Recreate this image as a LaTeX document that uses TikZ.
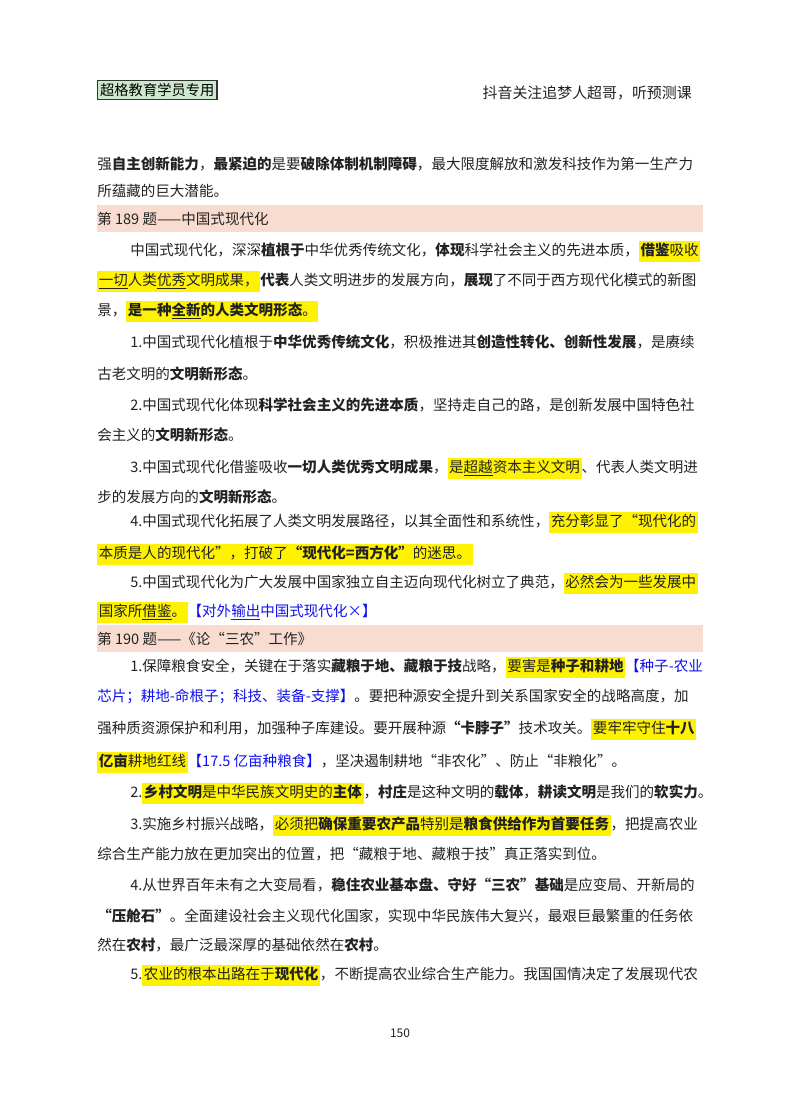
\documentclass[tikz,border=0pt]{standalone}
\usepackage{fontspec}
\setmainfont{Noto Sans CJK SC}
\XeTeXlinebreaklocale "zh"
\XeTeXlinebreakskip=0pt plus 3pt
\definecolor{band}{HTML}{F8DCD0}
\definecolor{hdr}{HTML}{CDE8CF}
\definecolor{txt}{HTML}{222222}
\definecolor{lnk}{HTML}{1010F0}
\newcommand\hl[1]{{\setlength{\fboxsep}{1.2pt}\colorbox{yellow}{\strut #1}}}
\newcommand\fl[1]{\makebox[454.5pt][s]{#1}}
\newcommand\il[1]{\makebox[429.75pt][s]{#1}}
\newcommand\bl[1]{\textcolor{lnk}{#1}}
\tikzset{tl/.style={anchor=base west, inner sep=0, text=txt, font=\fontsize{10.9pt}{13pt}\selectfont}}
\begin{document}
\begin{tikzpicture}[x=0.75pt,y=-0.75pt]
\useasboundingbox[fill=white] (0,0) rectangle (800,1114);
% header
\node[draw=black!80, fill=hdr, line width=0.8pt, inner sep=2pt, anchor=west, font=\fontsize{10.7pt}{13pt}\selectfont] (hd) at (97,90) {超格教育学员专用};
\node[anchor=east, inner sep=0, font=\fontsize{11.2pt}{13pt}\selectfont, text=txt] (hr) at (692,93) {抖音关注追梦人超哥，听预测课};
% bands
\fill[band] (97,205) rectangle (703,232);
\fill[band] (97,625) rectangle (703,652);
\node[tl] (l1) at (97,169) {\fl{强\textbf{自主创新能力}，\textbf{最紧迫的}是要\textbf{破除体制机制障碍}，最大限度解放和激发科技作为第一生产力}};
\node[tl] (l2) at (97,196) {所蕴藏的巨大潜能。};
\node[tl] (b1) at (97,224) {第 189 题——中国式现代化};
\node[tl] (p1) at (130,255) {\il{中国式现代化，深深\textbf{植根于}中华优秀传统文化，\textbf{体现}科学社会主义的先进本质，\hl{\textbf{借鉴}吸收}}};
\node[tl] (p2) at (97,285) {\fl{\hl{\underline{一切}人类\underline{优秀}文明成果，}\textbf{代表}人类文明进步的发展方向，\textbf{展现}了不同于西方现代化模式的新图}};
\node[tl] (p3) at (97,315) {景，\hl{\textbf{是一种\underline{全新}的人类文明形态}。}};
\node[tl] (a1) at (130,347) {\il{1.中国式现代化植根于\textbf{中华优秀传统文化}，积极推进其\textbf{创造性转化、创新性发展}，是赓续}};
\node[tl] (a2) at (97,379) {古老文明的\textbf{文明新形态}。};
\node[tl] (b1a) at (130,410) {\il{2.中国式现代化体现\textbf{科学社会主义的先进本质}，坚持走自己的路，是创新发展中国特色社}};
\node[tl] (b2a) at (97,440) {会主义的\textbf{文明新形态}。};
\node[tl] (c1) at (130,472) {\il{3.中国式现代化借鉴吸收\textbf{一切人类优秀文明成果}，\hl{是\underline{超越}资本主义文明}、代表人类文明进}};
\node[tl] (c2) at (97,502) {步的发展方向的\textbf{文明新形态}。};
\node[tl] (d1) at (130,526) {\il{4.中国式现代化拓展了人类文明发展路径，以其全面性和系统性，\hl{充分彰显了“现代化的}}};
\node[tl] (d2) at (97,558) {\hl{本质是人的现代化”，打破了\textbf{“现代化=西方化”}的迷思。}};
\node[tl] (e1) at (130,587) {\il{5.中国式现代化为广大发展中国家独立自主迈向现代化树立了典范，\hl{必然会为一些发展中}}};
\node[tl] (e2) at (97,616) {\hl{国家所\underline{借鉴}。}\bl{【对外\underline{输出}中国式现代化×】}};
\node[tl] (b2) at (97,644) {第 190 题——《论“三农”工作》};
\node[tl] (f1) at (130,671) {\il{1.保障粮食安全，关键在于落实\textbf{藏粮于地、藏粮于技}战略，\hl{要害是\textbf{种子和耕地}}\bl{【种子-农业}}};
\node[tl] (f2) at (97,701) {\fl{\bl{芯片；耕地-命根子；科技、装备-支撑】}。要把种源安全提升到关系国家安全的战略高度，加}};
\node[tl] (f3) at (97,733) {\fl{强种质资源保护和利用，加强种子库建设。要开展种源\textbf{“卡脖子”}技术攻关。\hl{要牢牢守住\textbf{十八}}}};
\node[tl] (f4) at (97,766) {\hl{\textbf{亿亩}耕地红线}\bl{【17.5 亿亩种粮食】}，坚决遏制耕地“非农化”、防止“非粮化”。};
\node[tl] (g1) at (130,797) {\il{2.\hl{\textbf{乡村文明}是中华民族文明史的\textbf{主体}}，\textbf{村庄}是这种文明的\textbf{载体}，\textbf{耕读文明}是我们的\textbf{软实力}。}};
\node[tl] (h1) at (130,829) {\il{3.实施乡村振兴战略，\hl{必须把\textbf{确保重要农产品}特别是\textbf{粮食供给作为首要任务}}，把提高农业}};
\node[tl] (h2) at (97,859) {综合生产能力放在更加突出的位置，把“藏粮于地、藏粮于技”真正落实到位。};
\node[tl] (i1) at (130,890) {\il{4.从世界百年未有之大变局看，\textbf{稳住农业基本盘、守好“三农”基础}是应变局、开新局的}};
\node[tl] (i2) at (97,921) {\fl{\textbf{“压舱石”}。全面建设社会主义现代化国家，实现中华民族伟大复兴，最艰巨最繁重的任务依}};
\node[tl] (i3) at (97,950) {然在\textbf{农村}，最广泛最深厚的基础依然在\textbf{农村}。};
\node[tl] (j1) at (130,979) {\il{5.\hl{农业的根本出路在于\textbf{现代化}}，不断提高农业综合生产能力。我国国情决定了发展现代农}};
\node[inner sep=0, text=txt, font=\fontsize{9pt}{11pt}\selectfont] (pg) at (400,1033) {150};
\end{tikzpicture}
\end{document}
